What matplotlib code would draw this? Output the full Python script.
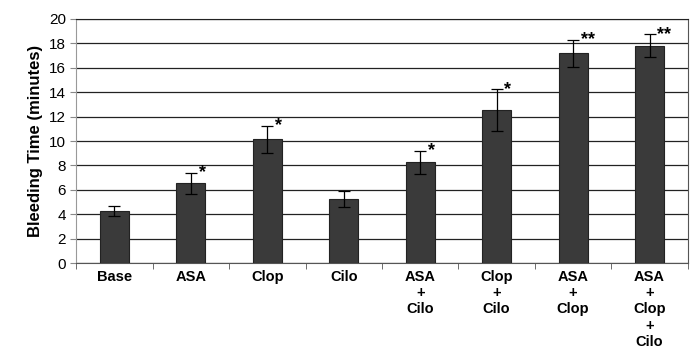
import matplotlib
matplotlib.use("Agg")
import matplotlib.pyplot as plt
import numpy as np

plt.rcParams['font.family'] = ['Liberation Sans', 'DejaVu Sans']

labels = ["Base", "ASA", "Clop", "Cilo", "ASA\n+\nCilo", "Clop\n+\nCilo",
          "ASA\n+\nClop", "ASA\n+\nClop\n+\nCilo"]
means = [4.3, 6.55, 10.15, 5.25, 8.25, 12.55, 17.2, 17.8]
errors = [0.4, 0.85, 1.1, 0.65, 0.95, 1.7, 1.1, 0.95]
stars = ["", "*", "*", "", "*", "*", "**", "**"]

fig = plt.figure(figsize=(6.99, 3.58), dpi=100)
ax = fig.add_axes([0.109, 0.265, 0.875, 0.682])

x = np.arange(len(labels))
ax.bar(x, means, width=0.38, color="#3a3a3a", edgecolor="#222222", linewidth=0.8, zorder=3)
ax.errorbar(x, means, yerr=errors, fmt="none", ecolor="black", elinewidth=0.9,
            capsize=4, capthick=0.9, zorder=4)

for xi, m, e, s in zip(x, means, errors, stars):
    if s:
        ax.text(xi + 0.1, m + e, s, ha="left", va="center", fontsize=13,
                fontweight="bold")

ax.set_xlim(-0.5, len(labels) - 0.5)
ax.set_ylim(0, 20)
ax.set_yticks(np.arange(0, 21, 2))
ax.yaxis.grid(True, color="#222222", linewidth=0.9, zorder=0)
ax.set_axisbelow(True)

ax.set_xticks(x)
ax.set_xticklabels(labels, fontweight="bold", fontsize=10.5, va="top", linespacing=1.2)
ax.tick_params(axis="x", length=0, pad=5)
ax.set_xticks(np.arange(-0.5, len(labels), 1), minor=True)
ax.tick_params(axis="x", which="minor", length=4, direction="out", color="#555555")
ax.tick_params(axis="y", labelsize=11, length=4, direction="out", color="#888888")

ax.set_ylabel("Bleeding Time (minutes)", fontweight="bold", fontsize=12)
ax.spines["left"].set_color("#999999")
ax.spines["bottom"].set_color("#555555")
ax.spines["right"].set_color("#555555")
ax.spines["top"].set_color("#222222")

fig.savefig("out.png", dpi=100)
